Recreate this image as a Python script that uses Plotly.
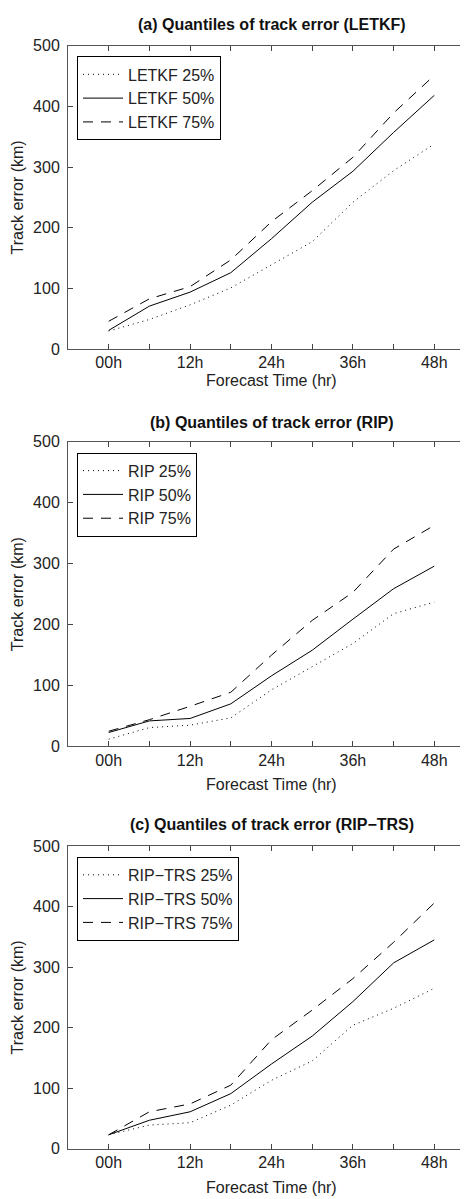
import plotly.graph_objects as go

hours = [0, 6, 12, 18, 24, 30, 36, 42, 48]
tick_vals = [0, 6, 12, 18, 24, 30, 36, 42, 48]
tick_text = ["00h", "", "12h", "", "24h", "", "36h", "", "48h"]

letkf_25 = [30, 49, 73, 101, 139, 177, 242, 294, 338]
letkf_50 = [31, 71, 94, 126, 182, 242, 293, 357, 418]
letkf_75 = [46, 83, 103, 147, 210, 261, 316, 389, 451]

rip_25 = [12, 31, 35, 47, 93, 131, 169, 218, 237]
rip_50 = [23, 42, 46, 70, 116, 158, 209, 259, 296]
rip_75 = [25, 44, 66, 89, 150, 207, 253, 324, 363]

trs_25 = [23, 39, 43, 72, 113, 145, 204, 232, 265]
trs_50 = [23, 47, 61, 91, 140, 186, 243, 307, 345]
trs_75 = [23, 61, 74, 105, 180, 229, 281, 341, 406]

panels = [
    ("(a) Quantiles of track error (LETKF)", "LETKF", [letkf_25, letkf_50, letkf_75]),
    ("(b) Quantiles of track error (RIP)", "RIP", [rip_25, rip_50, rip_75]),
    ("(c) Quantiles of track error (RIP\u2212TRS)", "RIP\u2212TRS", [trs_25, trs_50, trs_75]),
]

W, H = 468, 1199
boxes = [(30, 338), (432, 741), (842, 1149)]
title_y = [9, 412, 820]
xlab_y = [370, 780, 1188]
x_left, x_right = 60, 467

FONT = "Liberation Sans, Arial, sans-serif"
dashes = ["1px,4px", "solid", "10px,8px"]
pcts = ["25%", "50%", "75%"]
FS = 16

fig = go.Figure()
layout = dict(
    width=W, height=H,
    margin=dict(l=0, r=0, t=0, b=0),
    paper_bgcolor="white", plot_bgcolor="white",
    font=dict(family=FONT, size=FS, color="#222"),
    showlegend=True,
)
annotations = []
for i, (title, name, series) in enumerate(panels):
    n = "" if i == 0 else str(i + 1)
    top, bot = boxes[i]
    xa = "x" + n
    ya = "y" + n
    leg = "legend" + n
    for j, vals in enumerate(series):
        fig.add_trace(go.Scatter(
            x=hours, y=vals, mode="lines",
            name=f"{name} {pcts[j]}",
            line=dict(color="black", width=1, dash=dashes[j]),
            xaxis=xa, yaxis=ya, legend=leg,
        ))
    layout["xaxis" + n] = dict(
        domain=[x_left / W, x_right / W], anchor=ya,
        range=[-6, 54], tickvals=tick_vals, ticktext=tick_text,
        ticks="inside", ticklen=5, tickcolor="#444",
        showline=True, linecolor="#555", linewidth=1, mirror="ticks",
        showgrid=False, zeroline=False, ticklabelstandoff=-1,
        tickfont=dict(size=FS, color="#222"),
    )
    layout["yaxis" + n] = dict(
        domain=[1 - bot / H, 1 - top / H], anchor=xa,
        range=[0, 500], tickvals=[0, 100, 200, 300, 400, 500],
        ticks="inside", ticklen=5, tickcolor="#444",
        showline=True, linecolor="#555", linewidth=1, mirror="ticks",
        showgrid=False, zeroline=False, ticklabelstandoff=4,
        tickfont=dict(size=FS, color="#222"),
    )
    layout[leg] = dict(
        x=69 / W, y=1 - (top + 11) / H, xanchor="left", yanchor="top",
        bordercolor="black", borderwidth=1, bgcolor="white",
        font=dict(size=FS, color="#222"), tracegroupgap=0,
        itemwidth=40,
    )
    annotations.append(dict(
        text=f"<b>{title}</b>", x=(x_left + x_right) / 2 / W, y=1 - title_y[i] / H,
        xref="paper", yref="paper", xanchor="center", yanchor="middle",
        showarrow=False, font=dict(size=FS, color="#111"),
    ))
    annotations.append(dict(
        text="Forecast Time (hr)", x=(x_left + x_right) / 2 / W, y=1 - xlab_y[i] / H,
        xref="paper", yref="paper", xanchor="center", yanchor="middle",
        showarrow=False, font=dict(size=FS, color="#222"),
    ))
    annotations.append(dict(
        text="Track error (km)", x=9 / W, y=1 - (top + bot) / 2 / H,
        xref="paper", yref="paper", xanchor="center", yanchor="middle",
        textangle=-90, showarrow=False, font=dict(size=FS, color="#222"),
    ))
layout["annotations"] = annotations
fig.update_layout(**layout)
fig.write_html("out.html")
